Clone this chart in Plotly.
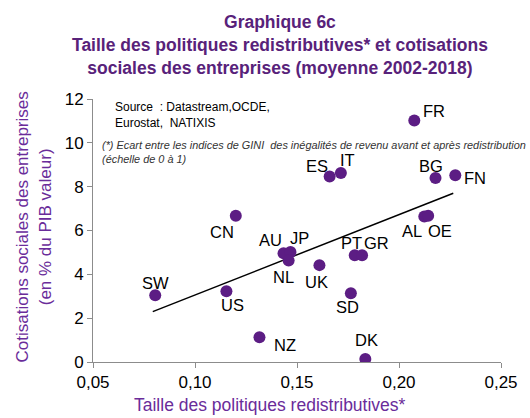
import plotly.graph_objects as go

countries = ["SW", "US", "CN", "NZ", "AU", "JP", "NL", "UK", "PT", "GR", "SD", "DK",
             "AL", "OE", "FR", "ES", "IT", "BG", "FN"]
redistrib = [0.0805, 0.1154, 0.1200, 0.1316, 0.1434, 0.1468, 0.1459, 0.1610, 0.1783, 0.1819,
             0.1764, 0.1835, 0.2124, 0.2143, 0.2075, 0.1660, 0.1715, 0.2179, 0.2276]
cotisations = [3.05, 3.23, 6.67, 1.13, 4.96, 5.02, 4.63, 4.42, 4.87, 4.87,
               3.14, 0.14, 6.64, 6.67, 11.02, 8.46, 8.62, 8.40, 8.52]
trend_x = [0.0793, 0.2266]
trend_y = [2.30, 7.70]
x_ticks = [0.05, 0.10, 0.15, 0.20, 0.25]
y_ticks = [0, 2, 4, 6, 8, 10, 12]

# label offsets in pixels (dx right, dy up)
label_offsets = {
    "SW": (0, 12), "US": (6, -14), "CN": (-14, -16), "NZ": (26, -8), "AU": (-13, 13),
    "JP": (9, 14), "NL": (-5, -16), "UK": (-3, -17), "PT": (-3, 12), "GR": (14, 12),
    "SD": (-3, -14), "DK": (1, 19), "AL": (-12, -15), "OE": (12, -15), "FR": (20, 9),
    "ES": (-13, 11), "IT": (7, 13), "BG": (-5, 12), "FN": (20, -3),
}

PURPLE = "#5C1D84"
TITLE_PURPLE = "#58227A"
AXIS_PURPLE = "#6A2C9A"
FONT = "Liberation Sans, Arial, sans-serif"

fig = go.Figure()
fig.add_trace(go.Scatter(x=trend_x, y=trend_y, mode="lines",
                         line=dict(color="black", width=1.5), hoverinfo="skip",
                         showlegend=False))
fig.add_trace(go.Scatter(x=redistrib, y=cotisations, mode="markers",
                         marker=dict(color=PURPLE, size=12), showlegend=False,
                         text=countries))

annotations = []
for c, x, y in zip(countries, redistrib, cotisations):
    dx, dy = label_offsets[c]
    annotations.append(dict(x=x, y=y, xref="x", yref="y", text=c, showarrow=False,
                            xshift=dx, yshift=dy,
                            font=dict(family=FONT, size=16.5, color="black")))

annotations += [
    dict(xref="paper", yref="paper", x=(113 - 93) / 411, y=1.0 + (99 - 98) / 263,
         xanchor="left", yanchor="top",
         text="Source  : Datastream,OCDE,<br>Eurostat,  NATIXIS", showarrow=False, align="left",
         font=dict(family=FONT, size=12, color="black")),
    dict(xref="paper", yref="paper", x=0.017, y=0.855, xanchor="left", yanchor="top",
         text="<i>(*) Ecart entre les indices de GINI  des inégalités de revenu avant et après redistribution<br>(échelle de 0 à 1)</i>",
         showarrow=False, align="left",
         font=dict(family=FONT, size=10.9, color="#333333")),
    dict(xref="paper", yref="paper", x=(33 - 93) / 411, y=(362 - 227) / 263,
         xanchor="center", yanchor="middle",
         textangle=-90, showarrow=False,
         text="Cotisations sociales des entreprises<br>(en % du PIB valeur)",
         font=dict(family=FONT, size=17, color=AXIS_PURPLE)),
    dict(xref="paper", yref="paper", x=(271 - 93) / 411, y=-(405 - 362) / 263,
         xanchor="center", yanchor="middle", showarrow=False,
         text="Taille des politiques redistributives*",
         font=dict(family=FONT, size=17.5, color=AXIS_PURPLE)),
    dict(xref="paper", yref="paper", x=(281 - 93) / 411, y=1.0 + (99 - 45) / 263,
         xanchor="center", yanchor="middle", showarrow=False,
         text="<b>Graphique 6c<br>Taille des politiques redistributives* et cotisations<br>sociales des entreprises (moyenne 2002-2018)</b>",
         font=dict(family=FONT, size=17.5, color=TITLE_PURPLE)),
]

fig.update_layout(
    width=530, height=418,
    margin=dict(l=93, r=26, t=99, b=56),
    plot_bgcolor="white", paper_bgcolor="white",
    separators=", ",
    annotations=annotations,
    font=dict(family=FONT, size=16, color="black"),
    xaxis=dict(range=[0.05, 0.25], tickvals=x_ticks, tickformat=".2f",
               showgrid=False, zeroline=False, showline=True, linecolor="#8c8c8c",
               linewidth=1, ticks="outside", ticklen=5, tickcolor="#8c8c8c",
               tickfont=dict(family=FONT, size=17, color="black")),
    yaxis=dict(range=[0, 12], tickvals=y_ticks, showgrid=False, zeroline=False,
               showline=True, linecolor="#8c8c8c", linewidth=1, ticks="outside",
               ticklen=5, tickcolor="#8c8c8c",
               tickfont=dict(family=FONT, size=17, color="black")),
)

fig.write_html("out.html", config={"displayModeBar": False},
               post_script="document.body.style.margin='0';document.body.style.padding='0';document.body.style.overflow='hidden';")
